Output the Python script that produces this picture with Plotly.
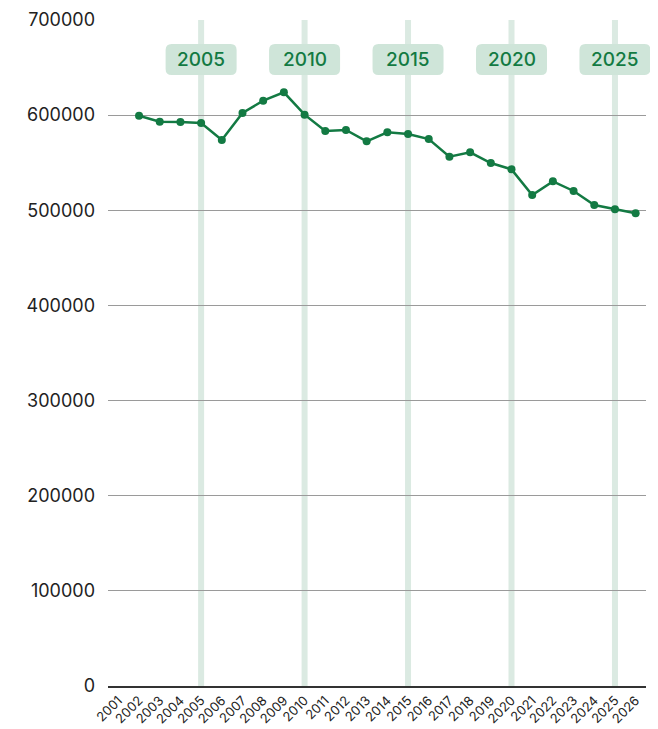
import plotly.graph_objects as go

all_years = [str(y) for y in range(2001, 2027)]
years = [str(y) for y in range(2002, 2027)]
values = [599400, 593100, 592800, 591700, 573900, 602300, 615200, 624000,
          600500, 583300, 584400, 572500, 581900, 580200, 574900, 556300,
          560900, 549700, 543000, 516000, 530400, 520300, 505600, 501000, 496800]
marker_years = ["2005", "2010", "2015", "2020", "2025"]
y_ticks = [0, 100000, 200000, 300000, 400000, 500000, 600000, 700000]

LINE = "#137a43"
BAND = "#dbeae2"
BOX = "#cfe5d9"

fig = go.Figure()
fig.add_trace(go.Scatter(
    x=years, y=values, mode="lines+markers",
    line=dict(color=LINE, width=2.5),
    marker=dict(color=LINE, size=8),
    hoverinfo="x+y", showlegend=False,
))

shapes = []
annotations = []
PW, PH = 538.0, 666.0  # plot area size in pixels
w, h, r = 71, 31, 6
label_y = (686 - 59.5) / 666
n = len(all_years)


def rounded_path(cx, cy):
    x0, x1 = cx - w / 2 / PW, cx + w / 2 / PW
    y0, y1 = cy - h / 2 / PH, cy + h / 2 / PH
    rx, ry = r / PW, r / PH
    return (f"M {x0+rx},{y0} L {x1-rx},{y0} Q {x1},{y0} {x1},{y0+ry} "
            f"L {x1},{y1-ry} Q {x1},{y1} {x1-rx},{y1} L {x0+rx},{y1} "
            f"Q {x0},{y1} {x0},{y1-ry} L {x0},{y0+ry} Q {x0},{y0} {x0+rx},{y0} Z")


for yr in marker_years:
    idx = all_years.index(yr)
    px = (idx + 0.5) / n
    shapes.append(dict(
        type="line", xref="x", yref="paper", x0=idx, x1=idx, y0=0, y1=1,
        line=dict(color=BAND, width=6), layer="below",
    ))
    shapes.append(dict(
        type="path", xref="paper", yref="paper", path=rounded_path(px, label_y),
        fillcolor=BOX, line=dict(width=0), layer="above",
    ))
    annotations.append(dict(
        x=px, xref="paper", y=label_y, yref="paper", text=yr,
        showarrow=False, font=dict(family="Inter", size=19, color=LINE, weight=500),
        xanchor="center", yanchor="middle",
    ))

fig.update_layout(
    width=650, height=721,
    margin=dict(l=100, r=12, t=12, b=43),
    paper_bgcolor="white", plot_bgcolor="white",
    font=dict(family="Inter", color="#222"),
    shapes=shapes, annotations=annotations,
    xaxis=dict(
        type="category", categoryorder="array", categoryarray=all_years,
        tickvals=all_years, ticktext=all_years, range=[-0.5, 25.5],
        tickangle=-45, tickfont=dict(size=13, color="#222"),
        showline=True, linecolor="#333", linewidth=1.5,
        showgrid=False, ticks="", automargin=False,
    ),
    yaxis=dict(
        range=[0, 700000], tickvals=y_ticks, tickformat="d",
        tickfont=dict(size=18, color="#222"),
        showgrid=True, gridcolor="#9a9a9a", gridwidth=1,
        zeroline=False, showline=False, ticks="", ticklabelstandoff=12,
        automargin=False,
    ),
)

fig.write_html("out.html")
